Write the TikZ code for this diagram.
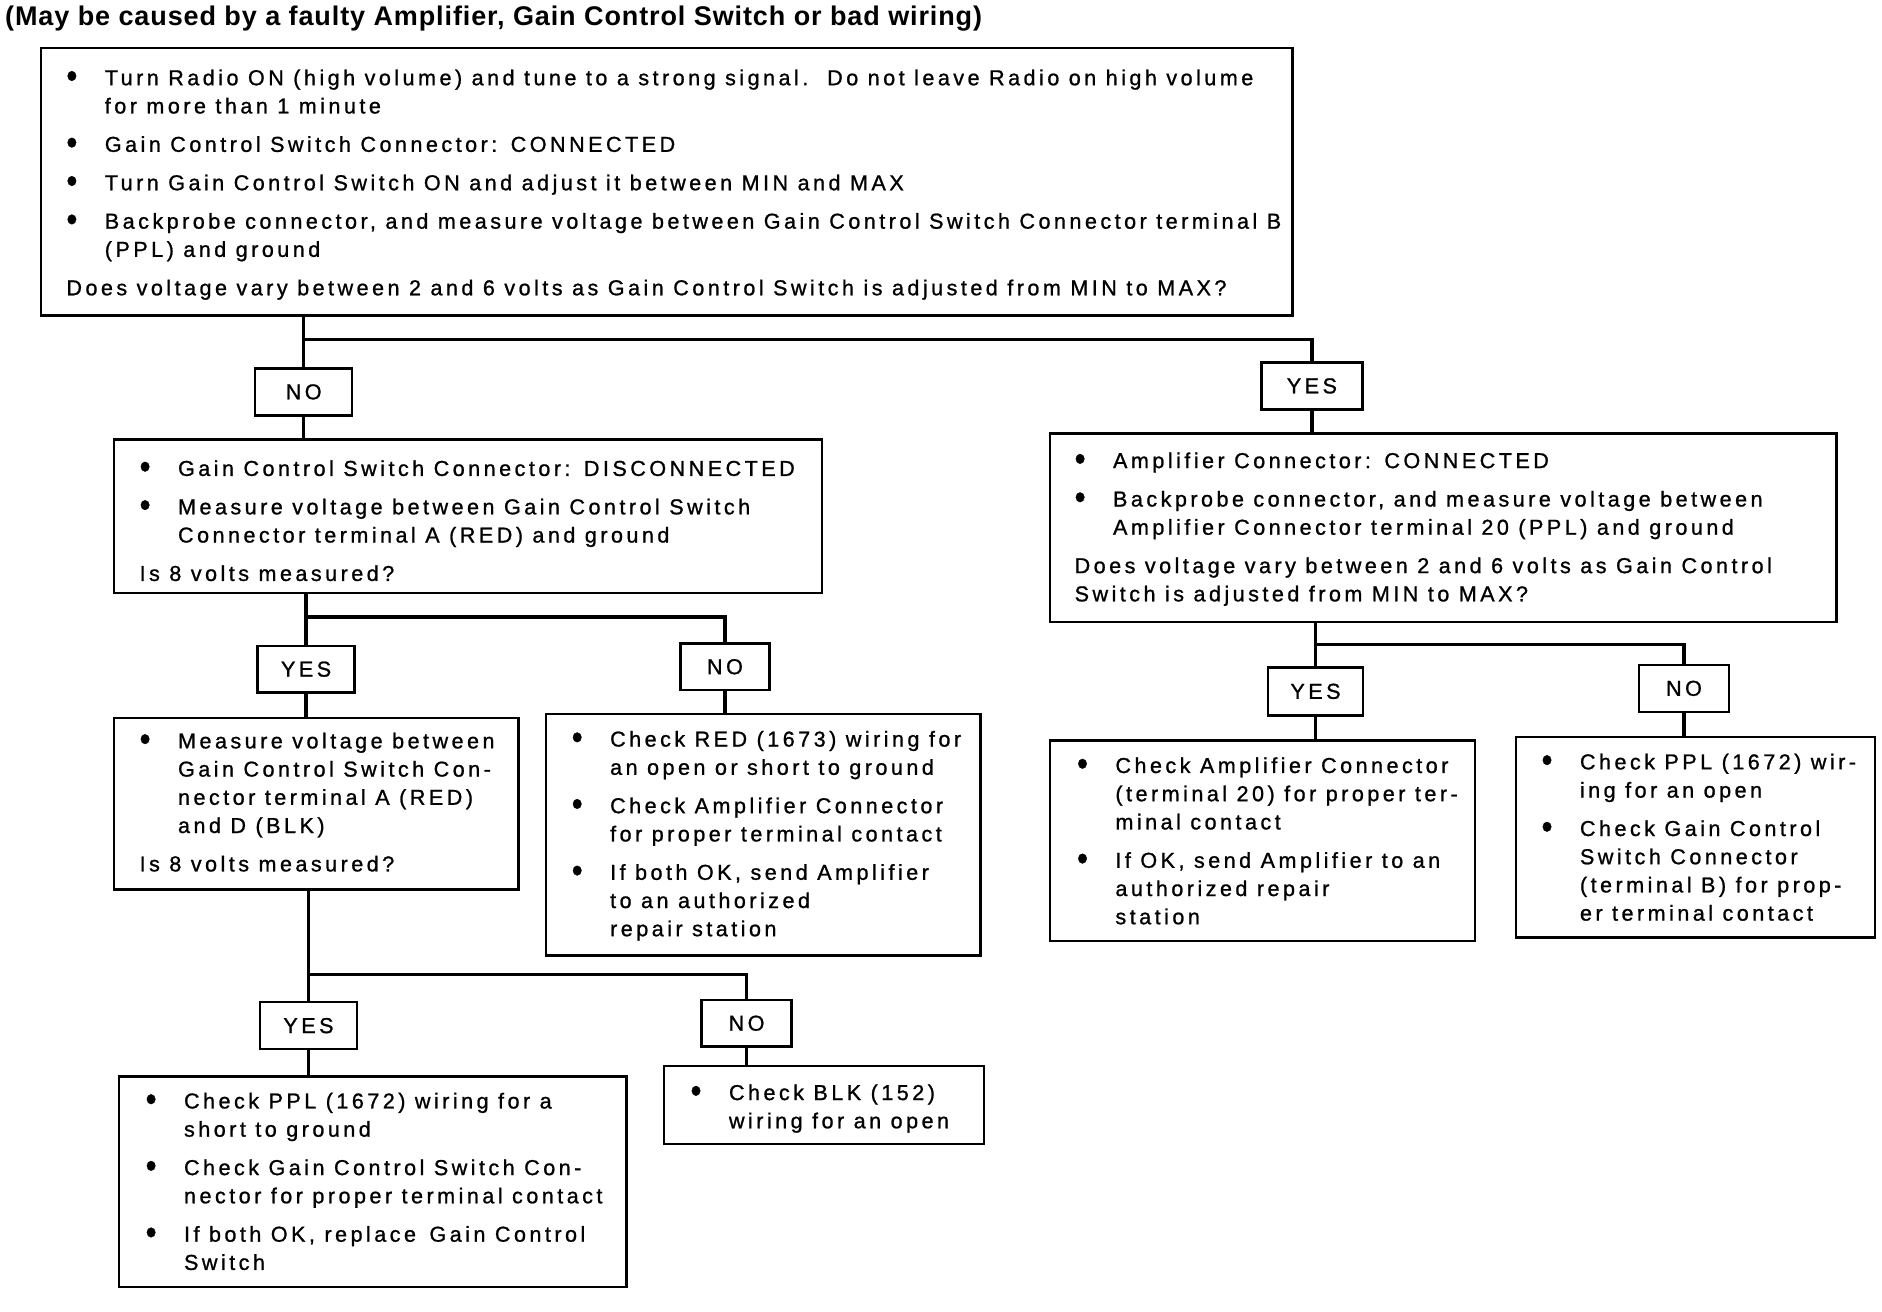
\documentclass[tikz,border=0pt]{standalone}
\usepackage{fontspec}
\usepackage{graphicx}
\usetikzlibrary{fit}
\newfontfamily\bodyfont{Liberation Sans}[LetterSpace=16,FakeBold=1.0]
\newfontfamily\titlefont{Liberation Sans Bold}[LetterSpace=3.3]
\newcommand\bul{\makebox[19.2pt][l]{\raisebox{-0.12em}{\scalebox{1.45}[1.65]{\textbullet}}}}
\newcommand\ind{\hspace*{19.2pt}}
\newcommand\pg{\\[5.1pt]}
\newcommand\gap{\ \hspace{2pt}}
\begin{document}
\begin{tikzpicture}[x=0.6pt,y=-0.6pt,
  box/.style={draw,line width=1.2pt,inner sep=0pt},
  lab/.style={draw,line width=1.2pt,inner sep=0pt,minimum height=23.4pt,font=\bodyfont\fontsize{10.8}{12}\selectfont},
  txt/.style={inner sep=0pt,anchor=base west,align=left,font=\bodyfont\fontsize{10.8}{14.1}\selectfont},
  conn/.style={line width=1.8pt}]
\useasboundingbox (0,0) rectangle (1568,1093);

\node[inner sep=0pt,anchor=base west,font=\titlefont\fontsize{13.5}{16}\selectfont] (title) at (4,21)
  {(May be caused by a faulty Amplifier, Gain Control Switch or bad wiring)};

% boxes
\node[box,fit={(34,40)(1077,263)}] (T) {};
\node[box,fit={(95,366)(685,494)}] (L1) {};
\node[box,fit={(875,361)(1530,518)}] (R1) {};
\node[box,fit={(95,598)(432,741)}] (L2) {};
\node[box,fit={(455,595)(817,796)}] (M2) {};
\node[box,fit={(99,897)(522,1072)}] (L3) {};
\node[box,fit={(553,888)(820,953)}] (BLK) {};
\node[box,fit={(875,617)(1229,784)}] (R2) {};
\node[box,fit={(1263,614)(1562,781)}] (R3) {};

% labels
\node[lab,minimum width=48.6pt] (NO1) at (253,326.5) {NO};
\node[lab,minimum width=50.4pt] (YES1) at (1093,321.5) {YES};
\node[lab,minimum width=48.6pt] (YES2) at (255,557.5) {YES};
\node[lab,minimum width=44.4pt] (NO2) at (604,555.5) {NO};
\node[lab,minimum width=48.6pt] (YES3) at (257,854.5) {YES};
\node[lab,minimum width=45pt] (NO3) at (622,852.5) {NO};
\node[lab,minimum width=47.4pt,minimum height=24pt] (YES4) at (1096,576) {YES};
\node[lab,minimum width=45pt] (NO4) at (1403,573.5) {NO};

% texts (anchored at the baseline of their last line)
\node[txt] (tT) at (55,246) {\bul Turn Radio ON (high volume) and tune to a strong signal.\ \ Do not leave Radio on high volume\\
\ind for more than 1 minute\pg
\bul Gain Control Switch Connector:\gap CONNECTED\pg
\bul Turn Gain Control Switch ON and adjust it between MIN and MAX\pg
\bul Backprobe connector, and measure voltage between Gain Control Switch Connector terminal B\\
\ind (PPL) and ground\pg
Does voltage vary between 2 and 6 volts as Gain Control Switch is adjusted from MIN to MAX?};

\node[txt] (tL1) at (116,484) {\bul Gain Control Switch Connector:\gap DISCONNECTED\pg
\bul Measure voltage between Gain Control Switch\\
\ind Connector terminal A (RED) and ground\pg
Is 8 volts measured?};

\node[txt] (tR1) at (895,501) {\bul Amplifier Connector:\gap CONNECTED\pg
\bul Backprobe connector, and measure voltage between\\
\ind Amplifier Connector terminal 20 (PPL) and ground\pg
Does voltage vary between 2 and 6 volts as Gain Control\\
Switch is adjusted from MIN to MAX?};

\node[txt] (tL2) at (116,726) {\bul Measure voltage between\\
\ind Gain Control Switch Con-\\
\ind nector terminal A (RED)\\
\ind and D (BLK)\pg
Is 8 volts measured?};

\node[txt] (tM2) at (476,780) {\bul Check RED (1673) wiring for\\
\ind an open or short to ground\pg
\bul Check Amplifier Connector\\
\ind for proper terminal contact\pg
\bul If both OK, send Amplifier\\
\ind to an authorized\\
\ind repair station};

\node[txt] (tL3) at (121,1058) {\bul Check PPL (1672) wiring for a\\
\ind short to ground\pg
\bul Check Gain Control Switch Con-\\
\ind nector for proper terminal contact\pg
\bul If both OK, replace\gap Gain Control\\
\ind Switch};

\node[txt] (tBLK) at (575,940) {\bul Check BLK (152)\\
\ind wiring for an open};

\node[txt] (tR2) at (897,770) {\bul Check Amplifier Connector\\
\ind (terminal 20) for proper ter-\\
\ind minal contact\pg
\bul If OK, send Amplifier to an\\
\ind authorized repair\\
\ind station};

\node[txt] (tR3) at (1284,767) {\bul Check PPL (1672) wir-\\
\ind ing for an open\pg
\bul Check Gain Control\\
\ind Switch Connector\\
\ind (terminal B) for prop-\\
\ind er terminal contact};

% junctions
\coordinate (j1) at (253,283);
\coordinate (j2) at (255,514);
\coordinate (j3) at (257,812);
\coordinate (j4) at (1096,537);

% connectors
\draw[conn] (T.south -| NO1) -- (NO1.north);
\draw[conn] (j1) -| (YES1.north);
\draw[conn] (NO1.south) -- (NO1.south |- L1.north);
\draw[conn] (YES1.south) -- (YES1.south |- R1.north);

\draw[conn] (L1.south -| YES2) -- (YES2.north);
\draw[conn] (j2) -| (NO2.north);
\draw[conn] (YES2.south) -- (YES2.south |- L2.north);
\draw[conn] (NO2.south) -- (NO2.south |- M2.north);

\draw[conn] (L2.south -| YES3) -- (YES3.north);
\draw[conn] (j3) -| (NO3.north);
\draw[conn] (YES3.south) -- (YES3.south |- L3.north);
\draw[conn] (NO3.south) -- (NO3.south |- BLK.north);

\draw[conn] (R1.south -| YES4) -- (YES4.north);
\draw[conn] (j4) -| (NO4.north);
\draw[conn] (YES4.south) -- (YES4.south |- R2.north);
\draw[conn] (NO4.south) -- (NO4.south |- R3.north);
\end{tikzpicture}
\end{document}
